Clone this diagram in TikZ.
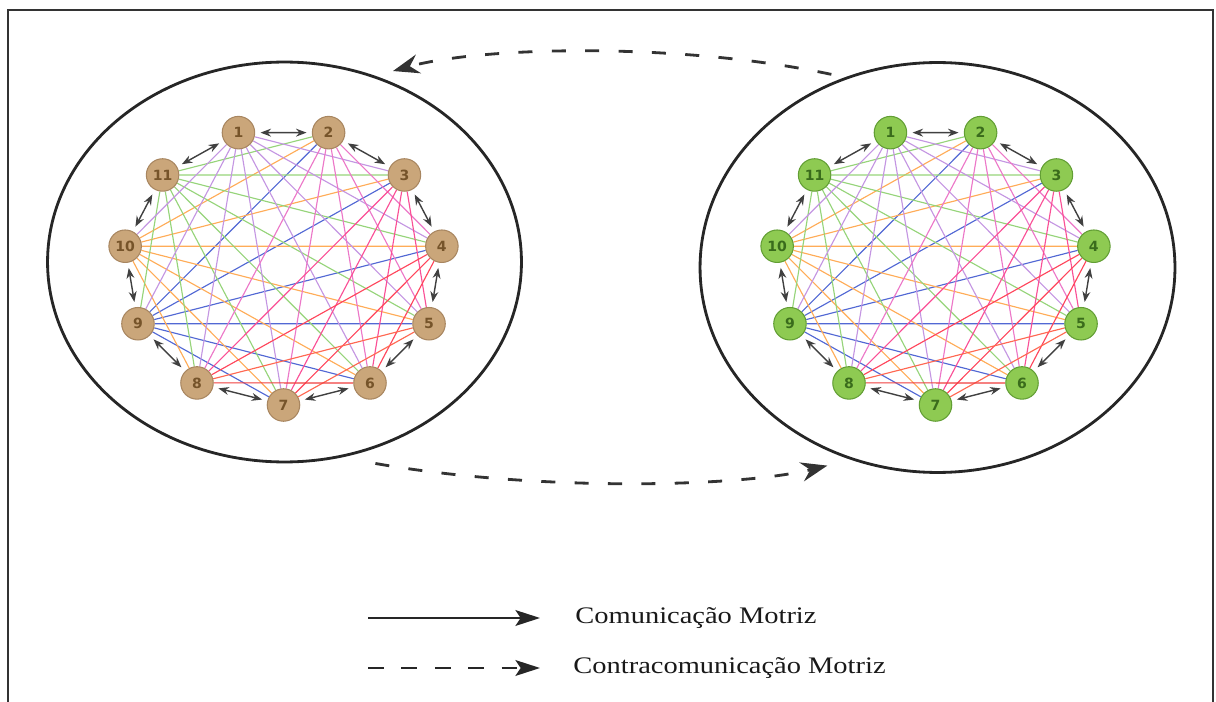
\documentclass[tikz,border=0pt]{standalone}
\usepackage{fontspec}
\setmainfont{Liberation Serif}
\newfontfamily\numfont{DejaVu Sans}
\usetikzlibrary{arrows.meta,shapes.geometric,backgrounds}

\definecolor{tanfill}{RGB}{202,166,122}
\definecolor{tanline}{RGB}{168,134,96}
\definecolor{tantext}{RGB}{118,84,42}
\definecolor{verdefill}{RGB}{142,202,82}
\definecolor{verdeline}{RGB}{98,158,52}
\definecolor{verdetext}{RGB}{58,108,28}
\definecolor{cordaazul}{RGB}{82,104,212}
\definecolor{cordalaranja}{RGB}{255,172,88}
\definecolor{cordaverde}{RGB}{150,212,122}
\definecolor{cordavioleta}{RGB}{196,150,226}
\definecolor{cordarosa}{RGB}{236,120,200}
\definecolor{cordamagenta}{RGB}{250,80,150}
\definecolor{cordavermelha}{RGB}{255,70,92}
\definecolor{cordacoral}{RGB}{255,104,82}
\definecolor{cordaescarlate}{RGB}{240,62,62}

\begin{document}
\begin{tikzpicture}[x=0.02cm,y=-0.02cm,
  campo/.style={ellipse,draw=black!85,line width=1.6pt,inner sep=0pt},
  jogador/.style={circle,minimum size=0.65cm,inner sep=0pt,line width=0.6pt,
    font=\numfont\bfseries\fontsize{8}{8}\selectfont},
  corda/.style={line width=0.65pt},
  anel/.style={{Stealth[length=6pt,width=4.5pt]}-{Stealth[length=6pt,width=4.5pt]},
    draw=black!75,line width=0.8pt,shorten <=3pt,shorten >=3pt},
  contra/.style={draw=black!80,line width=1.6pt,dash pattern=on 8pt off 11pt,
    -{Stealth[length=15pt,width=11pt,inset=5pt]}},
  legseta/.style={draw=black!85,line width=1.2pt,
    -{Stealth[length=14pt,width=9pt,inset=3pt]}},
  legenda/.style={anchor=west,inner sep=0pt,text=black!90,xscale=1.2,transform shape,
    font=\fontsize{13.5}{16}\selectfont}]

\useasboundingbox (0,0) rectangle (1216,702);

% frame, open at the bottom
\draw[line width=1.2pt,black!80] (8,702) -- (8,10) -- (1213,10) -- (1213,702);

% the two fields
\node[campo,minimum width=9.48cm,minimum height=8cm] (campoA) at (284.5,262) {};
\node[campo,minimum width=9.5cm,minimum height=8.2cm] (campoB) at (937.5,267.5) {};

% players
\foreach \lado/\cx/\cf/\cl/\ct in {L/283.5/tanfill/tanline/tantext, R/935.5/verdefill/verdeline/verdetext} {
  \foreach \i in {1,...,11} {
    \pgfmathsetmacro\ang{106.36-(\i-1)*32.727}
    \node[jogador,fill=\cf,draw=\cl,text=\ct] (\lado\i) at ({\cx+160*cos(\ang)},{266-139*sin(\ang)}) {\i};
  }
}

% interactions between all players
\begin{scope}[on background layer]
\foreach \lado in {L,R} {
  \foreach \o/\cor/\alvos in {9/cordaazul/{2,3,4,5,6,7}, 10/cordalaranja/{2,3,4,5,6,7,8},
      11/cordaverde/{2,3,4,5,6,7,8,9}, 1/cordavioleta/{3,4,5,6,7,8,9,10},
      2/cordarosa/{4,5,6,7,8}, 3/cordamagenta/{5,6,7,8}, 4/cordavermelha/{6,7,8},
      5/cordacoral/{7,8}, 6/cordaescarlate/{8}} {
    \foreach \t in \alvos {
      \draw[corda,\cor] (\lado\o) -- (\lado\t);
    }
  }
}
\end{scope}

% neighbours on the ring
\foreach \lado in {L,R} {
  \foreach \i in {1,...,11} {
    \pgfmathtruncatemacro\j{mod(\i,11)+1}
    \draw[anel] (\lado\i) -- (\lado\j);
  }
}

% counter-communication between the fields
\draw[contra] ([shift={(-3,-7)}]campoB.119) .. controls +(-150,-32) and +(90,-25) .. ([shift={(4,-10)}]campoA.60);
\draw[contra] ([shift={(7,13)}]campoA.-66) .. controls +(160,28) and +(-90,22) .. ([shift={(-7,12)}]campoB.-119);

% legend
\coordinate (solidoIni) at (368,618);
\coordinate (tracoIni) at (368,668);
\node[legenda] (solido) at (575,618) {Comunicação Motriz};
\node[legenda] (traco) at (573,668) {Contracomunicação Motriz};
\draw[legseta,shorten >=0.7cm] (solidoIni) -- (solido.west);
\draw[legseta,dash pattern=on 9pt off 10pt,shorten >=0.66cm] (tracoIni) -- (traco.west);

\end{tikzpicture}
\end{document}
